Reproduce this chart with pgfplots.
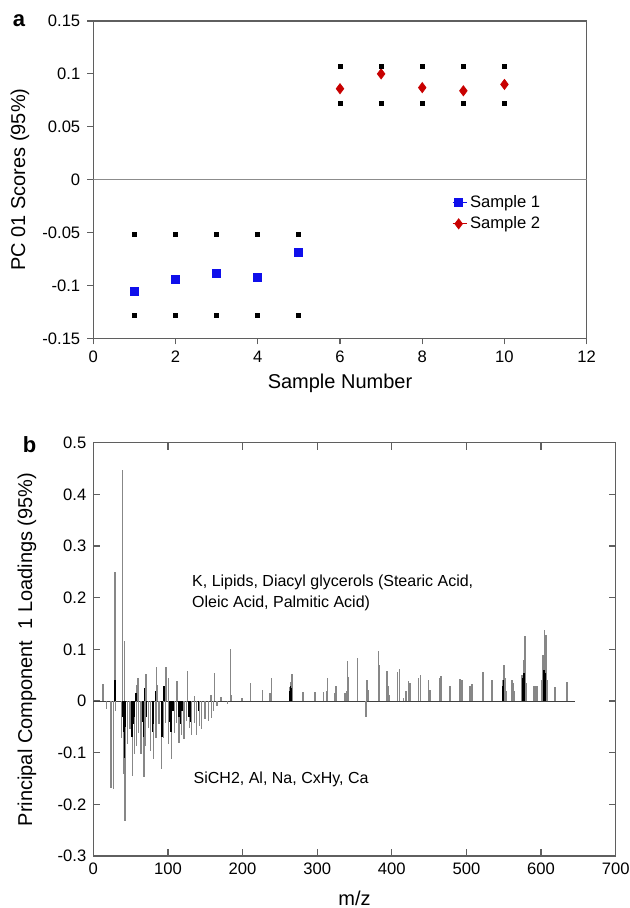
\documentclass[border=0pt]{standalone}
\usepackage{fontspec}
\setmainfont{Liberation Sans}
\usepackage{pgfplots}
\pgfplotsset{compat=1.18}
\definecolor{axgray}{RGB}{95,95,95}
\definecolor{bargray}{RGB}{135,135,135}
\definecolor{zerogray}{RGB}{140,140,140}
\definecolor{s1blue}{RGB}{15,15,235}
\definecolor{s2red}{RGB}{200,0,0}

\begin{document}
\begin{tikzpicture}[x=1pt,y=1pt]
\useasboundingbox (0pt,0pt) rectangle (315pt,454pt);
\pgfplotsset{
  every axis/.append style={
    scale only axis,
    axis line style={axgray, line width=0.65pt},
    every tick/.style={axgray, line width=0.6pt},
    tick label style={font=\fontsize{8.3}{10}\selectfont},
    label style={font=\fontsize{10}{12}\selectfont},
    /pgf/number format/assume math mode=true,
    /pgf/number format/fixed,
    /pgf/number format/precision=2,
  },
  mkleg/.style={legend image code/.code={\path (0pt,0pt) -- (7pt,0pt);
    \draw[mark repeat=2,mark phase=2,##1] plot coordinates {(0pt,0pt)(3pt,0pt)(6pt,0pt)};}},
}

% panel a: scores
\begin{axis}[
  at={(46.65pt,284.85pt)}, anchor=south west,
  width=246.7pt, height=158.65pt,
  xmin=0, xmax=12, ymin=-0.15, ymax=0.15,
  xtick={0,2,4,6,8,10,12},
  ytick={-0.15,-0.1,-0.05,0,0.05,0.1,0.15},
  tick align=outside, xtick pos=left, ytick pos=left,
  major tick length=3pt,
  xlabel={Sample Number},
  ylabel={PC 01 Scores (95\%)},
  xlabel style={at={(axis description cs:0.5,-0.142)}, anchor=center},
  ylabel style={at={(axis description cs:-0.1486,0.5)}, anchor=center},
  legend style={at={(axis cs:8.72,-0.0116)}, anchor=north west, draw=none, fill=none,
    inner sep=0pt, row sep=0pt, font=\fontsize{8.3}{10}\selectfont,
    nodes={inner sep=1.5pt}},
  legend cell align=left,
]
\addplot[forget plot, zerogray, line width=0.6pt] coordinates {(0,0) (12,0)};
\addplot[only marks, mark=square*, mark size=2pt, s1blue, mkleg]
  coordinates {(1,-0.106) (2,-0.094) (3,-0.089) (4,-0.092) (5,-0.069)};
\addlegendentry{Sample 1}
\addplot[only marks, mark=diamond*, mark size=2.5pt, s2red, mkleg]
  coordinates {(6,0.086) (7,0.100) (8,0.087) (9,0.084) (10,0.090)};
\addlegendentry{Sample 2}
% confidence limits
\addplot[forget plot, only marks, mark=square*, mark size=1pt, black]
  coordinates {(1,-0.0514) (2,-0.0514) (3,-0.0514) (4,-0.0514) (5,-0.0514)
               (1,-0.128) (2,-0.128) (3,-0.128) (4,-0.128) (5,-0.128)
               (6,0.107) (7,0.107) (8,0.107) (9,0.107) (10,0.107)
               (6,0.0722) (7,0.0722) (8,0.0722) (9,0.0722) (10,0.0722)};
\end{axis}

% panel b: loadings
\begin{axis}[
  at={(46.65pt,26pt)}, anchor=south west,
  width=261.2pt, height=206.65pt,
  xmin=0, xmax=700, ymin=-0.3, ymax=0.5,
  xtick={0,100,200,300,400,500,600,700},
  ytick={-0.3,-0.2,-0.1,0,0.1,0.2,0.3,0.4,0.5},
  tick align=inside, major tick length=3.5pt,
  xlabel={m/z},
  ylabel={Principal Component \ 1 Loadings (95\%)},
  xlabel style={at={(axis description cs:0.5,-0.102)}, anchor=center},
  ylabel style={at={(axis description cs:-0.1269,0.5)}, anchor=center},
]
\addplot[black!75, line width=0.5pt] coordinates {(0,0) (645,0)};
\addplot[ycomb, bargray, line width=0.7pt] coordinates {
(13,0.032)(28.5,0.04)(29,0.249)(38.9,0.447)(42,0.117)(58,0.031)(60,0.045)(70.6,0.053)
(85,0.066)(86,0.031)(97.5,0.066)(100.6,0.045)(112,0.038)(126.5,0.058)(136,0.01)
(157.8,0.012)(162.5,0.055)(171,0.008)(184,0.1)(185,0.012)(199,0.005)(211,0.035)
(227,0.022)(237,0.015)(238.5,0.045)(263,0.028)(265,0.036)(266,0.052)(281,0.018)
(297,0.018)(308.4,0.018)(312.8,0.02)(313.7,0.045)(324,0.015)(325.3,0.03)(337.4,0.015)
(339.6,0.02)(341,0.078)(342.3,0.046)(354.4,0.084)(366.5,0.04)(368.7,0.022)(382,0.096)
(383.4,0.07)(393.3,0.058)(395.5,0.03)(396.8,0.012)(408,0.057)(410.2,0.062)(415.6,0.005)
(419.2,0.02)(422.3,0.038)(424.5,0.035)(435.7,0.045)(438.8,0.05)(449.1,0.04)(451.3,0.022)
(464.7,0.045)(466.1,0.048)(478.2,0.03)(491.6,0.042)(493.8,0.04)(505,0.03)(507.2,0.033)
(522,0.057)(522.8,0.05)(534,0.04)(548.3,0.04)(550.5,0.07)(551.9,0.045)(553.2,0.02)
(560.8,0.04)(563,0.035)(564.4,0.02)(574.2,0.05)(576.4,0.07)(577.3,0.08)(578.7,0.125)
(580,0.035)(589.9,0.03)(592.1,0.03)(594.3,0.03)(601,0.04)(602.4,0.09)(604.2,0.138)
(605.5,0.085)(606.8,0.127)(608.6,0.04)(618.9,0.028)(634.5,0.037)
(18,-0.016)(23.7,-0.168)(26.8,-0.171)(30,-0.019)(38,-0.071)(40.2,-0.142)(42.5,-0.232)
(45.6,-0.084)(49.2,-0.055)(52.3,-0.145)(55,-0.103)(58.2,-0.087)(60.3,-0.061)(63.9,-0.103)
(68,-0.148)(70.2,-0.087)(73.7,-0.052)(76.9,-0.097)(80.4,-0.113)(84,-0.071)(88,-0.045)
(91.7,-0.132)(93.8,-0.071)(97,-0.042)(100.5,-0.084)(105,-0.113)(108.6,-0.061)(111.8,-0.042)
(114.9,-0.081)(118.5,-0.065)(121.6,-0.074)(125.2,-0.039)(128.7,-0.052)(131.9,-0.065)
(135.4,-0.042)(138.6,-0.065)(142,-0.048)(145.3,-0.055)(149.7,-0.035)(154,-0.039)
(158.7,-0.032)(161,-0.02)(166,-0.01)(180,-0.005)(365.6,-0.03)
};
\addplot[ycomb, black, line width=0.7pt] coordinates {
(29,0.04)(39,-0.03)(40.5,-0.06)(41.5,-0.11)(43,-0.05)(52,-0.07)(53,-0.045)(55.5,-0.03)
(57,0.015)(66,-0.04)(67,-0.07)(69,0.025)(71,-0.03)(79,-0.06)(80,-0.045)(83,0.02)
(91,-0.05)(92,-0.07)(95,0.03)(103,-0.04)(104,-0.06)(107,-0.02)(115,-0.03)(117,-0.045)
(119,-0.02)(128,-0.03)(130,-0.04)(141,-0.02)(263.5,0.02)(264.5,0.03)(265.5,0.025)
(549,0.03)(550,0.04)(575,0.03)(576,0.045)(577,0.055)(578,0.04)
(603,0.05)(604,0.06)(605,0.04)(606,0.055)
};
\node[anchor=west, font=\fontsize{8}{10}\selectfont, inner sep=0pt] at (axis cs:132,0.2295) {K, Lipids, Diacyl glycerols (Stearic Acid,};
\node[anchor=west, font=\fontsize{8}{10}\selectfont, inner sep=0pt] at (axis cs:132,0.189) {Oleic Acid, Palmitic Acid)};
\node[anchor=west, font=\fontsize{8}{10}\selectfont, inner sep=0pt] at (axis cs:134,-0.152) {SiCH2, Al, Na, CxHy, Ca};
\end{axis}

\node[font=\bfseries\fontsize{11}{13}\selectfont] at (9.5pt,443.5pt) {a};
\node[font=\bfseries\fontsize{11}{13}\selectfont] at (14.75pt,231.5pt) {b};
\end{tikzpicture}
\end{document}
